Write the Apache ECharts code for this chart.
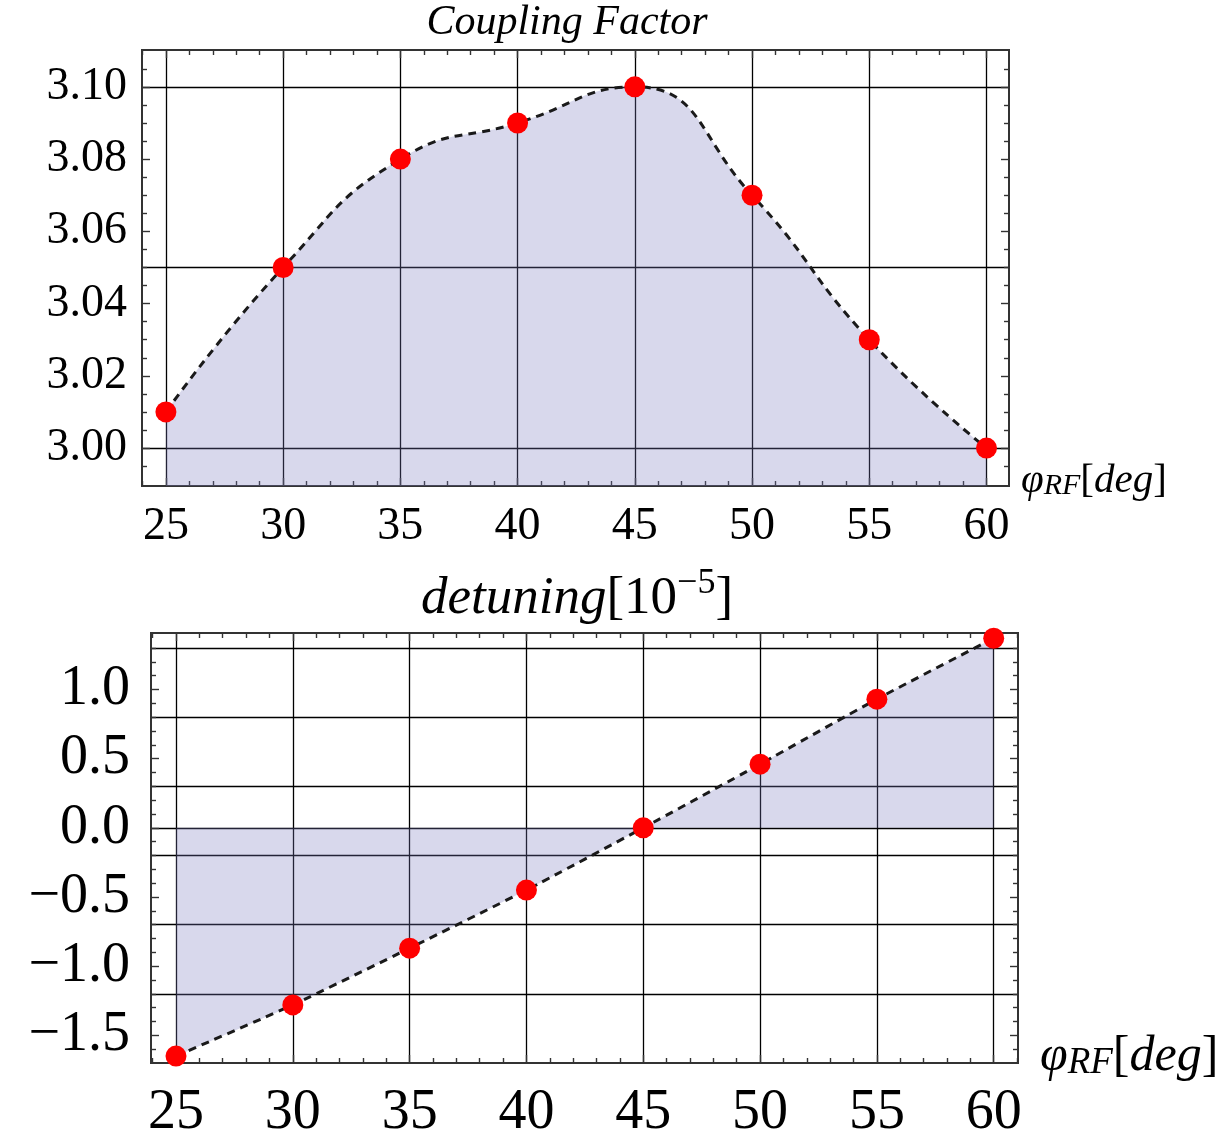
<!DOCTYPE html>
<html><head><meta charset="utf-8">
<script src="https://cdn.jsdelivr.net/npm/echarts@6/dist/echarts.min.js"></script>
<style>html,body{margin:0;padding:0;background:#fff}#c{width:1230px;height:1141px}</style>
</head><body><div id="c"></div>
<script>
// ---- data ----
const phiRF = [25, 30, 35, 40, 45, 50, 55, 60];
const couplingFactor = [3.01, 3.05, 3.08, 3.09, 3.10, 3.07, 3.03, 3.00];
const detuning = [-1.65, -1.28, -0.87, -0.45, 0.0, 0.46, 0.93, 1.37];

// ---- ticks / grid lines ----
const xMajorTicks = [25, 30, 35, 40, 45, 50, 55, 60];
const xMinorTicksTop = [24, 26, 27, 28, 29, 31, 32, 33, 34, 36, 37, 38, 39, 41, 42, 43, 44, 46, 47, 48, 49, 51, 52, 53, 54, 56, 57, 58, 59];
const xMinorTicksBottom = [24, 26, 27, 28, 29, 31, 32, 33, 34, 36, 37, 38, 39, 41, 42, 43, 44, 46, 47, 48, 49, 51, 52, 53, 54, 56, 57, 58, 59, 61];
const cfMajorTicks = [3.00, 3.02, 3.04, 3.06, 3.08, 3.10];
const cfMinorTicks = [2.995, 3.005, 3.01, 3.015, 3.025, 3.03, 3.035, 3.045, 3.05, 3.055, 3.065, 3.07, 3.075, 3.085, 3.09, 3.095, 3.105];
const cfGridLines = [3.00, 3.05, 3.10];
const dtMajorTicks = [-1.5, -1.0, -0.5, 0.0, 0.5, 1.0];
const dtMinorTicks = [-1.6, -1.4, -1.3, -1.2, -1.1, -0.9, -0.8, -0.7, -0.6, -0.4, -0.3, -0.2, -0.1, 0.1, 0.2, 0.3, 0.4, 0.6, 0.7, 0.8, 0.9, 1.1, 1.2, 1.3];
const dtGridLines = [-1.2, -0.7, -0.2, 0.0, 0.3, 0.8, 1.3];

// ---- styling ----
const FONT = 'Liberation Serif';
const FRAME = '#333333';
const GRIDC = '#000000';
const FILL = 'rgba(120,120,190,0.29)';

const R0 = {xmin: 23.98, xmax: 60.96, ymin: 2.9895, ymax: 3.1102};
const R1 = {xmin: 23.93, xmax: 61.04, ymin: -1.70, ymax: 1.408};

function ax(grid, pos, min, max, ticks, len, extra) {
  const base = {
    type: 'value', gridIndex: grid, position: pos, min: min, max: max,
    axisLine: {show: true, onZero: false, lineStyle: {color: FRAME, width: 2}},
    axisTick: {show: true, inside: true, length: len, customValues: ticks, lineStyle: {color: FRAME, width: 1.4}},
    axisLabel: {show: false},
    splitLine: {show: false},
    splitArea: {show: false}
  };
  return Object.assign(base, extra || {});
}
function gridAxis(grid, pos, min, max, vals) {
  return {
    type: 'value', gridIndex: grid, position: pos, min: min, max: max,
    axisLine: {show: false, onZero: false},
    axisTick: {show: false, customValues: vals},
    axisLabel: {show: false},
    splitLine: {show: true, lineStyle: {color: GRIDC, width: 1.3}}
  };
}
function nameRich(s) {
  return {
    phi: {fontFamily: FONT, fontStyle: 'italic', fontSize: s, lineHeight: Math.round(s * 1.3), verticalAlign: 'bottom', color: '#000'},
    sub: {fontFamily: FONT, fontStyle: 'italic', fontSize: Math.round(s * 0.74), lineHeight: Math.round(s * 0.74), verticalAlign: 'bottom', color: '#000'},
    b: {fontFamily: FONT, fontSize: s, lineHeight: Math.round(s * 1.3), verticalAlign: 'bottom', color: '#000'},
    i: {fontFamily: FONT, fontStyle: 'italic', fontSize: s, lineHeight: Math.round(s * 1.3), verticalAlign: 'bottom', color: '#000'}
  };
}
const NAME_TEXT = '{phi|φ}{sub|RF}{b|[}{i|deg}{b|]}';

const minusFmt = (d) => (v) => (v < 0 ? '\u2212' + Math.abs(v).toFixed(d) : Math.abs(v).toFixed(d));

const xAxes = [
  // grid 0
  ax(0, 'bottom', R0.xmin, R0.xmax, xMajorTicks, 8, {
    axisLabel: {show: true, customValues: xMajorTicks, margin: 18, fontFamily: FONT, fontSize: 46, color: '#000'},
    splitLine: {show: true, lineStyle: {color: GRIDC, width: 1.3}},
    name: NAME_TEXT, nameLocation: 'end', nameGap: 12,
    nameTextStyle: {rich: nameRich(41), padding: [0, 0, 22, 0], align: 'left'}
  }),
  ax(0, 'bottom', R0.xmin, R0.xmax, xMinorTicksTop, 5),
  ax(0, 'top', R0.xmin, R0.xmax, xMajorTicks, 8),
  ax(0, 'top', R0.xmin, R0.xmax, xMinorTicksTop, 5),
  // grid 1
  ax(1, 'bottom', R1.xmin, R1.xmax, xMajorTicks, 8, {
    axisLabel: {show: true, customValues: xMajorTicks, margin: 22, fontFamily: FONT, fontSize: 56, color: '#000'},
    splitLine: {show: true, lineStyle: {color: GRIDC, width: 1.3}},
    name: NAME_TEXT, nameLocation: 'end', nameGap: 22,
    nameTextStyle: {rich: nameRich(50), padding: [0, 0, 28, 0], align: 'left'}
  }),
  ax(1, 'bottom', R1.xmin, R1.xmax, xMinorTicksBottom, 5),
  ax(1, 'top', R1.xmin, R1.xmax, xMajorTicks, 8),
  ax(1, 'top', R1.xmin, R1.xmax, xMinorTicksBottom, 5)
];

const yAxes = [
  // grid 0
  ax(0, 'left', R0.ymin, R0.ymax, cfMajorTicks, 8, {
    axisLabel: {show: true, customValues: cfMajorTicks, margin: 15, fontFamily: FONT, fontSize: 46, color: '#000', formatter: minusFmt(2)}
  }),
  ax(0, 'left', R0.ymin, R0.ymax, cfMinorTicks, 5),
  ax(0, 'right', R0.ymin, R0.ymax, cfMajorTicks, 8),
  ax(0, 'right', R0.ymin, R0.ymax, cfMinorTicks, 5),
  gridAxis(0, 'left', R0.ymin, R0.ymax, cfGridLines),
  // grid 1
  ax(1, 'left', R1.ymin, R1.ymax, dtMajorTicks, 8, {
    axisLabel: {show: true, customValues: dtMajorTicks, margin: 21, fontFamily: FONT, fontSize: 56, color: '#000', formatter: minusFmt(1)}
  }),
  ax(1, 'left', R1.ymin, R1.ymax, dtMinorTicks, 5),
  ax(1, 'right', R1.ymin, R1.ymax, dtMajorTicks, 8),
  ax(1, 'right', R1.ymin, R1.ymax, dtMinorTicks, 5),
  gridAxis(1, 'left', R1.ymin, R1.ymax, dtGridLines)
];

function lineSeries(xi, yi, ys, smooth) {
  return {
    type: 'line', xAxisIndex: xi, yAxisIndex: yi,
    data: phiRF.map((x, i) => [x, ys[i]]),
    smooth: smooth,
    symbol: 'circle', symbolSize: 21,
    itemStyle: {color: '#ff0000'},
    lineStyle: {color: '#1a1a1a', width: 3, type: [8, 6]},
    areaStyle: {color: FILL, opacity: 1, origin: 'auto'},
    clip: true, z: 3
  };
}

const chart = echarts.init(document.getElementById('c'), null, {renderer: 'canvas'});
chart.setOption({
  animation: false,
  backgroundColor: '#fff',
  grid: [
    {left: 142, top: 50, width: 867, height: 436, containLabel: false},
    {left: 151, top: 633, width: 867, height: 432, containLabel: false}
  ],
  xAxis: xAxes,
  yAxis: yAxes,
  graphic: [
    {type: 'text', x: 567, y: 23, z: 10,
     style: {text: 'Coupling Factor', fontFamily: FONT, fontStyle: 'italic', fontSize: 42, fill: '#000', align: 'center', verticalAlign: 'middle'}},
    {type: 'text', x: 577, y: 596, z: 10,
     style: {text: '{i|detuning}{n|[10}{s|\u22125}{n|]}', align: 'center', verticalAlign: 'middle',
       rich: {
         i: {fontFamily: FONT, fontStyle: 'italic', fontSize: 53, lineHeight: 60, verticalAlign: 'bottom', fill: '#000'},
         n: {fontFamily: FONT, fontSize: 53, lineHeight: 60, verticalAlign: 'bottom', fill: '#000'},
         s: {fontFamily: FONT, fontSize: 36, lineHeight: 34, verticalAlign: 'top', fill: '#000'}
       }}}
  ],
  series: [
    lineSeries(0, 0, couplingFactor, 0.5),
    lineSeries(4, 5, detuning, 0.2)
  ]
});
</script>
</body></html>
